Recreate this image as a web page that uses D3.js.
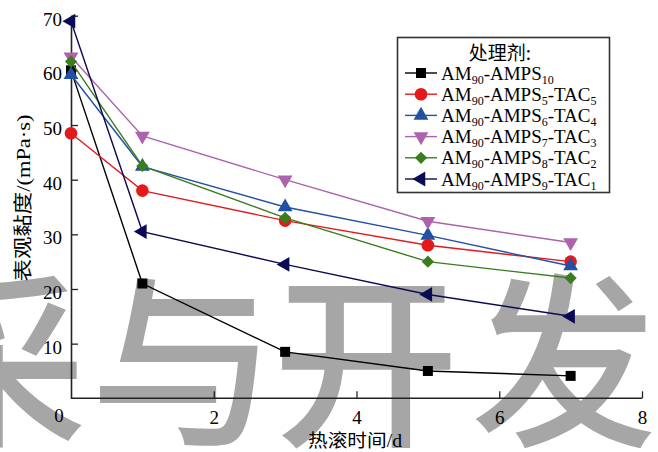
<!DOCTYPE html>
<html>
<head>
<meta charset="utf-8">
<script src="https://cdn.jsdelivr.net/npm/d3@7/dist/d3.min.js"></script>
<style>
  html, body { margin: 0; padding: 0; background: #fff; }
  svg { display: block; }
  .serif { font-family: "Liberation Serif", "Tinos", "Times New Roman", "DejaVu Serif", serif; }
  .cjk { font-family: "Noto Sans CJK SC", sans-serif; }
</style>
</head>
<body>
<svg id="chart" width="658" height="452"></svg>
<script>
// Heat-rolling time (days) and apparent viscosity (mPa·s) per formulation
const days = [0, 1, 3, 5, 7];
const ampsOnly = [60.0, 21.0, 8.5, 5.0, 4.1];
const tac5 = [48.5, 38.0, 32.5, 28.0, 25.0];
const tac4 = [59.2, 42.4, 35.0, 29.8, 24.2];
const tac3 = [62.5, 48.0, 40.0, 32.4, 28.5];
const tac2 = [61.6, 42.5, 33.0, 25.0, 22.0];
const tac1 = [69.0, 30.5, 24.5, 19.0, 15.0];

const seriesNames = [
  "AM90-AMPS10",
  "AM90-AMPS5-TAC5",
  "AM90-AMPS6-TAC4",
  "AM90-AMPS7-TAC3",
  "AM90-AMPS8-TAC2",
  "AM90-AMPS9-TAC1"
];
const seriesValues = [ampsOnly, tac5, tac4, tac3, tac2, tac1];
const seriesColors = ["#000000", "#e31a1c", "#2151a1", "#ad62ad", "#3b7d1d", "#0b0b55"];
const seriesShapes = ["square", "circle", "up", "down", "diamond", "left"];

const xTicks = [2, 4, 6, 8];
const yTicks = [10, 20, 30, 40, 50, 60, 70];
const legendTitle = "处理剂:";
const xTitle = ["热滚时间", "/d"];
const yTitle = ["表观黏度", "/(mPa·s)"];
const watermark = ["采", "与", "开", "发"];

const svg = d3.select("#chart");

const x = d3.scaleLinear().domain([0, 8]).range([71, 642]);
const y = d3.scaleLinear().domain([0, 70]).range([398.3, 15.7]);

// Background watermark characters
const wmX = [-6, 183, 366, 564];
svg.append("g").selectAll("text").data(watermark).join("text")
  .attr("class", "cjk")
  .attr("x", (d, i) => wmX[i])
  .attr("y", 351)
  .attr("text-anchor", "middle")
  .attr("dominant-baseline", "central")
  .attr("font-weight", 500)
  .attr("font-size", 186)
  .attr("fill", "#a6a6a6")
  .text(d => d);

// Axes (inward ticks, left and bottom only)
const xAxis = svg.append("g")
  .attr("transform", `translate(0,${y(0)})`)
  .call(d3.axisBottom(x).tickValues(xTicks).tickSizeInner(-7).tickSizeOuter(0).tickPadding(12).tickFormat(d3.format("d")));
const yAxis = svg.append("g")
  .attr("transform", `translate(${x(0)},0)`)
  .call(d3.axisLeft(y).tickValues(yTicks).tickSizeInner(-7).tickSizeOuter(0).tickPadding(9).tickFormat(d3.format("d")));

[xAxis, yAxis].forEach(g => {
  g.attr("font-family", null);
  g.select(".domain").attr("stroke", "#222").attr("stroke-width", 1.6);
  g.selectAll(".tick line").attr("stroke", "#222").attr("stroke-width", 1.3);
  g.selectAll(".tick text").attr("class", "serif").attr("font-size", 19).attr("fill", "#000");
});
yAxis.selectAll(".tick text").attr("dy", "0.5em");
xAxis.select(".domain").attr("d", `M${x(0)},0H${x(8)}`);

// Origin label shared by both axes
svg.append("text")
  .attr("class", "serif")
  .attr("x", 59).attr("y", 422)
  .attr("text-anchor", "middle")
  .attr("font-size", 19)
  .text("0");

// Axis titles: Chinese part in CJK face, units in serif
function mixedTitle(sel, parts) {
  sel.append("tspan").attr("class", "cjk").text(parts[0]);
  sel.append("tspan").attr("class", "serif").text(parts[1]);
}
svg.append("text")
  .attr("x", 355).attr("y", 447)
  .attr("text-anchor", "middle")
  .attr("font-size", 18)
  .attr("textLength", 94)
  .attr("lengthAdjust", "spacingAndGlyphs")
  .call(mixedTitle, xTitle);
svg.append("text")
  .attr("transform", "translate(30,198) rotate(-90)")
  .attr("text-anchor", "middle")
  .attr("font-size", 19)
  .attr("textLength", 167)
  .attr("lengthAdjust", "spacingAndGlyphs")
  .call(mixedTitle, yTitle);

// Marker factory
function marker(sel, shape, color) {
  const sym = {
    square: d3.symbolSquare, circle: d3.symbolCircle, up: d3.symbolTriangle,
    down: d3.symbolTriangle, diamond: d3.symbolDiamond2, left: d3.symbolTriangle
  }[shape];
  const size = { square: 100, circle: 125, up: 95, down: 95, diamond: 95, left: 95 }[shape];
  const rot = { down: 180, left: -90 }[shape] || 0;
  sel.append("path")
    .attr("d", d3.symbol(sym, size)())
    .attr("transform", `rotate(${rot})`)
    .attr("fill", color);
}

const line = d3.line().x(d => x(d[0])).y(d => y(d[1]));

seriesValues.forEach((vals, i) => {
  const pts = days.map((d, j) => [d, vals[j]]);
  const g = svg.append("g");
  g.append("path")
    .attr("d", line(pts))
    .attr("fill", "none")
    .attr("stroke", seriesColors[i])
    .attr("stroke-width", 1.4);
  g.selectAll("g.pt").data(pts).join("g")
    .attr("class", "pt")
    .attr("transform", d => `translate(${x(d[0])},${y(d[1])})`)
    .each(function () { marker(d3.select(this), seriesShapes[i], seriesColors[i]); });
});

// Legend
const lg = svg.append("g");
lg.append("rect")
  .attr("x", 397.5).attr("y", 37.5).attr("width", 212).attr("height", 155)
  .attr("fill", "#fff").attr("stroke", "#333").attr("stroke-width", 1.6);
lg.append("text")
  .attr("class", "cjk")
  .attr("x", 500).attr("y", 60)
  .attr("text-anchor", "middle")
  .attr("font-size", 19)
  .text(legendTitle);

seriesNames.forEach((name, i) => {
  const cy = 73 + i * 21.2;
  const row = lg.append("g");
  row.append("line")
    .attr("x1", 405).attr("x2", 437).attr("y1", cy).attr("y2", cy)
    .attr("stroke", seriesColors[i]).attr("stroke-width", 1.4);
  const m = row.append("g").attr("transform", `translate(421,${cy})`);
  marker(m, seriesShapes[i], seriesColors[i]);
  const t = row.append("text")
    .attr("class", "serif")
    .attr("x", 441).attr("y", cy + 6.5)
    .attr("font-size", 19);
  // Digits after letters are set as subscripts
  let lowered = false;
  name.split(/(\d+)/).filter(s => s.length).forEach(part => {
    if (/^\d+$/.test(part)) {
      t.append("tspan").attr("font-size", 12).attr("dy", 4).text(part);
      lowered = true;
    } else {
      t.append("tspan").attr("dy", lowered ? -4 : null).text(part);
      lowered = false;
    }
  });
});
</script>
</body>
</html>
